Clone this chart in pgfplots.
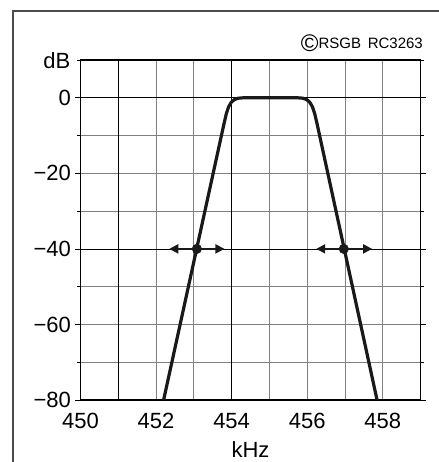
\documentclass[border=0pt]{standalone}
\usepackage{fontspec}
\setmainfont{Liberation Sans}
\usepackage{pgfplots}
\pgfplotsset{compat=1.18}
\usetikzlibrary{arrows.meta}

\begin{document}
\begin{tikzpicture}[x=1pt,y=1pt]
\useasboundingbox (-80.5,-62) rectangle (357.5,400);
% frame (only top and left edge visible)
\draw[black!70,line width=1.3pt] (-67.5,-70) -- (-67.5,389) -- (370,389);
\begin{axis}[
  scale only axis, width=340pt, height=340pt,
  xmin=450, xmax=459, ymin=-80, ymax=10,
  xtick={450,452,...,458}, minor xtick={451,453,...,459},
  ytick={-80,-60,...,0}, minor ytick={-70,-50,-30,-10,10},
  yticklabels={−80,−60,−40,−20,0},
  grid=both,
  grid style={black!50,line width=0.7pt},
  minor grid style={black!50,line width=0.7pt},
  extra x ticks={451,454}, extra x tick labels={},
  extra y ticks={0,-40}, extra y tick labels={},
  extra tick style={grid style={black,line width=0.7pt}},
  axis line style={line width=1.6pt},
  xtick style={draw=none}, minor x tick style={draw=none},
  ytick style={black,line width=0.7pt}, minor y tick style={black,line width=0.7pt},
  tick align=outside, major tick length=5pt, minor tick length=3pt,
  /pgf/number format/assume math mode=true,
  /pgf/number format/set thousands separator={},
  tick label style={font=\fontsize{22}{26}\selectfont},
  xticklabel style={yshift=-5pt},
  yticklabel style={xshift=-1pt},
  xlabel={kHz}, xlabel style={font=\fontsize{22}{26}\selectfont, yshift=4pt},
  clip=false,
]
\addplot[black!90,line width=3.2pt,line join=round,line cap=butt] coordinates {
  (452.20,-80) (453.80,-6.8) (453.86,-4.2) (453.92,-2.4) (453.99,-1.2)
  (454.07,-0.5) (454.17,-0.12) (454.32,0) (455.74,0) (455.89,-0.12)
  (455.99,-0.5) (456.07,-1.2) (456.14,-2.4) (456.20,-4.2) (456.26,-6.8)
  (457.85,-80)};
% -40 dB markers with arrows
\addplot[black!90,line width=2pt,-{Triangle[length=9pt,width=9pt]}] coordinates {(453.08,-40) (452.35,-40)};
\addplot[black!90,line width=2pt,-{Triangle[length=9pt,width=9pt]}] coordinates {(453.08,-40) (453.81,-40)};
\addplot[black!90,line width=2pt,-{Triangle[length=9pt,width=9pt]}] coordinates {(456.97,-40) (456.24,-40)};
\addplot[black!90,line width=2pt,-{Triangle[length=9pt,width=9pt]}] coordinates {(456.97,-40) (457.72,-40)};
\addplot[only marks,mark=*,mark size=4.8pt,black!90] coordinates {(453.08,-40) (456.97,-40)};
\node[anchor=east,font=\fontsize{22}{26}\selectfont,inner sep=0pt] at (rel axis cs:0,1) [xshift=-10pt,yshift=-1pt] {dB};
\end{axis}
\node[anchor=east,font=\fontsize{15}{18}\selectfont,inner sep=0pt] at (342.5,357)
  {\raisebox{-2.5pt}{\fontsize{24}{24}\selectfont\textcopyright}RSGB\, RC3263};
\end{tikzpicture}
\end{document}
